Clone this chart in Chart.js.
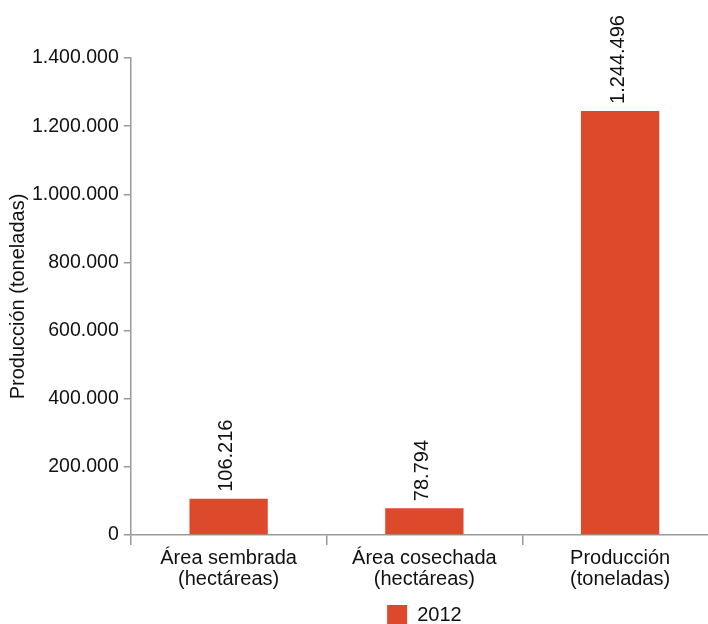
<!DOCTYPE html>
<html>
<head>
<meta charset="utf-8">
<script src="https://cdn.jsdelivr.net/npm/chart.js@4/dist/chart.umd.min.js"></script>
<style>
  body { margin: 0; overflow: hidden; background: #fff; }
</style>
</head>
<body>
<canvas id="myChart" width="720" height="635"></canvas>
<script>
'use strict';
let categories = [['Área sembrada', '(hectáreas)'], ['Área cosechada', '(hectáreas)'], ['Producción', '(toneladas)']];
let values2012 = [106216, 78794, 1244496];
let seriesName = '2012';
let yTitle = 'Producción (toneladas)';
let yMax = 1400000;
let yStep = 200000;

let barColor = '#dc4a2b';
let axisColor = '#9a9a9a';
let fontFamily = "'Liberation Sans', Arial, sans-serif";

function dots(v) {
    return String(v).replace(/\B(?=(\d{3})+(?!\d))/g, '.');
}

// rotated value labels above each bar
let barLabels = {
    id: 'barLabels',
    afterDatasetsDraw(chart) {
        let ctx = chart.ctx;
        let meta = chart.getDatasetMeta(0);
        ctx.save();
        ctx.font = '20px ' + fontFamily;
        ctx.fillStyle = '#111';
        ctx.textAlign = 'left';
        ctx.textBaseline = 'middle';
        meta.data.forEach(function (bar, i) {
            ctx.save();
            ctx.translate(bar.x - 2, bar.y - 7);
            ctx.rotate(-Math.PI / 2);
            ctx.fillText(dots(chart.data.datasets[0].data[i]), 0, 0);
            ctx.restore();
        });
        ctx.restore();
    }
};

let ctx = document.getElementById('myChart');
let myChart = new Chart(ctx, {
    type: 'bar',
    data: {
        labels: categories,
        datasets: [{
            label: seriesName,
            data: values2012,
            backgroundColor: barColor,
            barPercentage: 0.4,
            categoryPercentage: 1
        }]
    },
    options: {
        responsive: false,
        animation: false,
        layout: { padding: { top: 58, right: 2, left: 0, bottom: 0 } },
        plugins: {
            tooltip: { enabled: false },
            legend: {
                position: 'bottom',
                fullSize: false,
                labels: {
                    boxWidth: 20,
                    boxHeight: 20,
                    padding: 12,
                    color: '#111',
                    font: { family: fontFamily, size: 20 }
                }
            }
        },
        scales: {
            x: {
                border: { color: axisColor, width: 1.5 },
                grid: { drawOnChartArea: false, color: axisColor, lineWidth: 1.5, tickLength: 10 },
                ticks: {
                    color: '#111',
                    padding: 3,
                    maxRotation: 0,
                    font: { family: fontFamily, size: 20, lineHeight: 1.05 }
                }
            },
            y: {
                min: 0,
                max: yMax,
                border: { color: axisColor, width: 1.5 },
                grid: { drawOnChartArea: false, color: axisColor, lineWidth: 1.5, tickLength: 7 },
                ticks: {
                    stepSize: yStep,
                    color: '#111',
                    padding: 5,
                    font: { family: fontFamily, size: 19.5 },
                    callback: function (v) { return dots(v); }
                },
                title: {
                    display: true,
                    text: yTitle,
                    color: '#111',
                    padding: { top: 8, bottom: -1 },
                    font: { family: fontFamily, size: 20, lineHeight: 1 }
                }
            }
        }
    },
    plugins: [barLabels]
});
</script>
</body>
</html>
